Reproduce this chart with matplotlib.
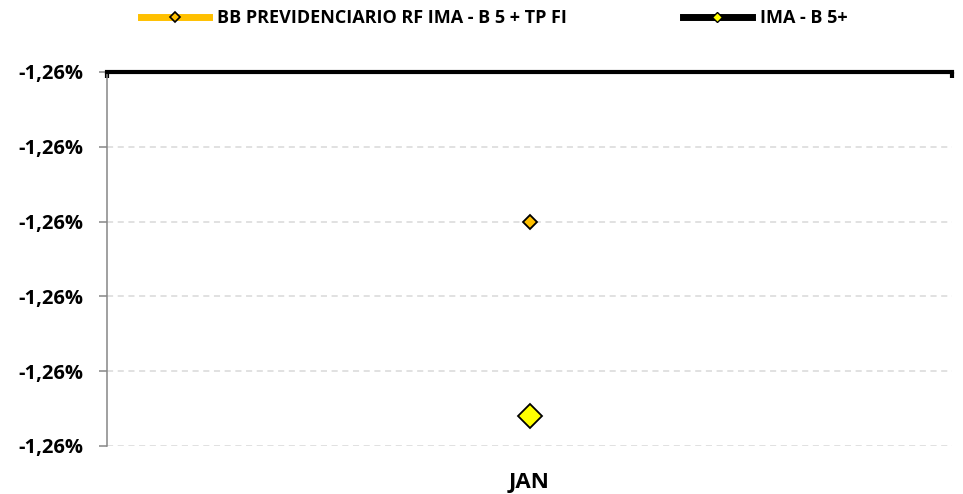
import numpy as np
import matplotlib.pyplot as plt
from matplotlib.lines import Line2D
from matplotlib.ticker import FuncFormatter

plt.rcParams['font.family'] = ['Open Sans', 'DejaVu Sans']

months = ['JAN']
fund_name = 'BB PREVIDENCIARIO RF IMA - B 5 + TP FI'
bench_name = 'IMA - B 5+'
fund = [-1.2600]
bench = [-1.2626]
yticks = [-1.2630, -1.2620, -1.2610, -1.2600, -1.2590, -1.2580]

fig = plt.figure(figsize=(9.63, 4.94), dpi=100)
ax = fig.add_axes([0.1111, 0.0972, 0.8775, 0.7571])

x = np.arange(len(months))
ax.plot(x, fund, color='#FFC000', lw=5, marker='D', ms=7.5,
        mfc='#FFC000', mec='black', mew=1.3)
ax.plot(x, bench, color='black', lw=5, marker='D', ms=12.5,
        mfc='#FFFF00', mec='black', mew=1.3)

ax.set_xlim(-0.5, 0.5)
ax.set_ylim(yticks[0], yticks[-1])
ax.set_yticks(yticks)
ax.yaxis.set_major_formatter(FuncFormatter(lambda v, p: '{:.2f}%'.format(v).replace('.', ',')))
ax.grid(axis='y', color='#D9D9D9', ls=(0, (4, 3)), lw=1.1)

ax.set_xticks(x)
ax.set_xticklabels(months, fontsize=16, fontweight='bold')
ax.tick_params(axis='x', which='major', length=0, pad=19)
ax.set_xticks([-0.5, 0.5], minor=True)
ax.tick_params(axis='x', which='minor', top=True, bottom=False, direction='in',
               length=4, width=3, color='black')

ax.tick_params(axis='y', length=6, width=1.1, color='#868686', pad=11)
for lab in ax.get_yticklabels():
    lab.set_fontweight('bold')
    lab.set_fontsize(14.5)

ax.spines['right'].set_visible(False)
ax.spines['bottom'].set_visible(False)
ax.spines['left'].set_color('#868686')
ax.spines['left'].set_linewidth(1.1)
ax.spines['top'].set_color('black')
ax.spines['top'].set_linewidth(3)

handles = [
    Line2D([], [], color='#FFC000', lw=5, marker='D', ms=5, mfc='#FFC000', mec='black', mew=1.2),
    Line2D([], [], color='black', lw=5, marker='D', ms=5, mfc='#FFFF00', mec='black', mew=1.0),
]
fig.legend(handles, [fund_name, bench_name], loc='upper center', bbox_to_anchor=(0.513, 1.015),
           ncol=2, frameon=False, handlelength=3.8, columnspacing=6.4, handletextpad=0.45,
           prop={'weight': 'bold', 'size': 13})

fig.savefig('out.png', dpi=100)
